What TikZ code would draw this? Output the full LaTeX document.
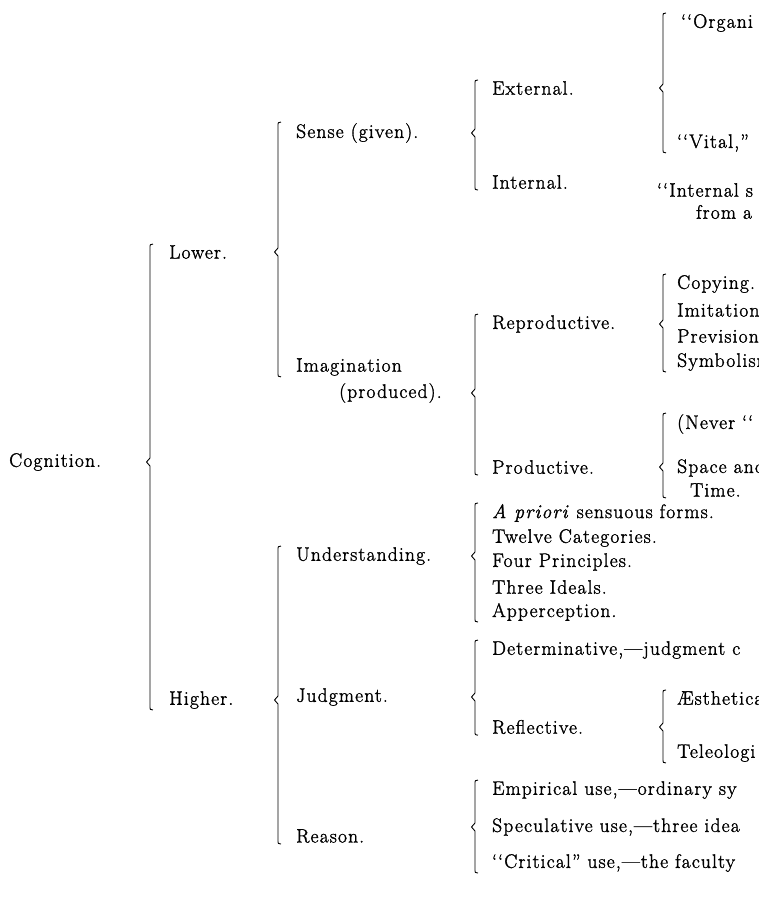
\documentclass[tikz,border=0pt]{standalone}
\usepackage{fontspec}
\setmainfont{Latin Modern Roman}[LetterSpace=6, FakeBold=1.5]
\usetikzlibrary{calc}

% one brace: column x, first child, parent (tip), last child
\newcommand\kbrace[4]{%
  \draw[brace line] let \p1=(#1), \p2=(#2.north), \p3=(#3), \p4=(#4.south) in
    (\x1+3pt,\y2) .. controls (\x1,\y2) .. (\x1,\y2-5pt) -- (\x1,\y3+4pt)
    -- (\x1-3.5pt,\y3) -- (\x1,\y3-4pt) -- (\x1,\y4+5pt)
    .. controls (\x1,\y4) .. (\x1+3pt,\y4);}

\begin{document}
\begin{tikzpicture}[x=1pt, y=-1pt,
    every node/.style={font=\fontsize{19.5}{21}\selectfont, anchor=west, inner sep=1pt},
    brace line/.style={line width=0.9pt, line join=round}]
  \useasboundingbox (0,0) rectangle (759,906);
  \clip (0,0) rectangle (759,906);
  % --- columns of the braces ---
  \coordinate (c1) at (150,0);
  \coordinate (c2) at (278,0);
  \coordinate (c3) at (475,0);
  \coordinate (c4) at (663,0);
  % --- root and first split ---
  \node (cog) at (8,462) {Cognition.};
  \node (lower) at (168,252) {Lower.};
  \node (higher) at (168,700) {Higher.};
  % --- lower faculties ---
  \node (sense) at (295,133) {Sense (given).};
  \node (imag) at (295,367) {Imagination};
  \node (imagb) at (338,393) {(produced).};
  \node (ext) at (491,88) {External.};
  \node (int) at (491,182) {Internal.};
  \node (org) at (680,23) {`{}`Organi};
  \node (vital) at (676,143) {`{}`Vital,''};
  \node (ints) at (656,190) {`{}`Internal s};
  \node (intsb) at (695,212) {from a};
  \node (repro) at (491,324) {Reproductive.};
  \node (prod) at (491,467) {Productive.};
  \node (copy) at (676,284) {Copying.};
  \node (imit) at (676,310) {Imitation};
  \node (prev) at (676,336) {Prevision};
  \node (symb) at (676,362) {Symbolism};
  \node (never) at (676,424) {(Never `{}`};
  \node (space) at (676,468) {Space and};
  \node (time) at (689,490) {Time.};
  % --- higher faculties ---
  \node (under) at (295,556) {Understanding.};
  \node (judg) at (295,697) {Judgment.};
  \node (reason) at (295,836) {Reason.};
  \node (apri) at (491,513) {\textit{A priori} sensuous forms.};
  \node (twelve) at (491,538) {Twelve Categories.};
  \node (four) at (491,562) {Four Principles.};
  \node (three) at (491,587) {Three Ideals.};
  \node (apper) at (491,612) {Apperception.};
  \node (deter) at (491,650) {Determinative,—judgment c};
  \node (refl) at (491,727) {Reflective.};
  \node (aesth) at (676,698) {Æsthetica};
  \node (teleo) at (676,753) {Teleologi};
  \node (empir) at (491,790) {Empirical use,—ordinary sy};
  \node (specu) at (491,827) {Speculative use,—three idea};
  \node (criti) at (491,863) {`{}`Critical'' use,—the faculty};
  % --- braces ---
  \kbrace{c1}{lower}{cog}{higher}
  \kbrace{c2}{sense}{lower}{imag}
  \kbrace{c2}{under}{higher}{reason}
  \kbrace{c3}{ext}{sense}{int}
  \kbrace{c3}{repro}{imagb}{prod}
  \kbrace{c3}{apri}{under}{apper}
  \kbrace{c3}{deter}{judg}{refl}
  \kbrace{c3}{empir}{specu}{criti}
  \kbrace{c4}{org}{ext}{vital}
  \kbrace{c4}{copy}{repro}{symb}
  \kbrace{c4}{never}{prod}{time}
  \kbrace{c4}{aesth}{refl}{teleo}
\end{tikzpicture}
\end{document}
